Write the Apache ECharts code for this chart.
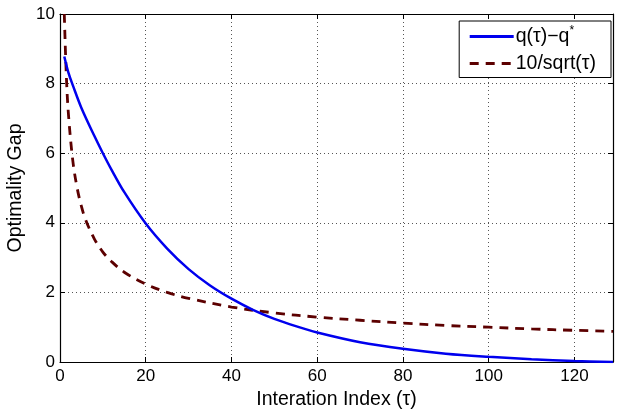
<!DOCTYPE html>
<html><head><meta charset="utf-8">
<script src="https://cdn.jsdelivr.net/npm/echarts@6/dist/echarts.min.js"></script>
<style>html,body{margin:0;padding:0;background:#fff}#c{width:623px;height:415px}</style>
</head><body><div id="c"></div>
<script>
const tauGap = [1,2,3,5,8,10,12,15,20,25,30,35,40,45,50,55,60,70,80,90,100,110,120,129];
const gapValues = [8.78,8.3,7.95,7.3,6.5,6.0,5.53,4.88,3.98,3.26,2.67,2.2,1.82,1.5,1.24,1.03,0.85,0.57,0.38,0.24,0.15,0.08,0.03,0.0];
const tauBound = [1,1.5,2,3,4,5,6,8,10,12,15,20,25,30,40,50,60,70,80,90,100,110,120,129];
const boundValues = [10,8.16,7.07,5.77,5.0,4.47,4.08,3.54,3.16,2.89,2.58,2.24,2.0,1.83,1.58,1.41,1.29,1.2,1.12,1.05,1.0,0.95,0.91,0.88];
const xTicks = [0,20,40,60,80,100,120];
const yTicks = [0,2,4,6,8,10];
const seriesNames = ['q(τ)−q*', '10/sqrt(τ)'];

const pair = (xs, ys) => xs.map((x, i) => [x, ys[i]]);
const font = 'Liberation Sans, Arial, Helvetica, sans-serif';
const chart = echarts.init(document.getElementById('c'), null, {renderer: 'canvas'});
const tickStyle = {show: true, inside: true, length: 5, lineStyle: {color: '#000', width: 1}};
const baseX = {
  type: 'value', min: 0, max: 129, interval: 20,
  axisLine: {show: true, onZero: false, lineStyle: {color: '#000', width: 1.2}},
  axisTick: Object.assign({customValues: xTicks}, tickStyle)
};
const baseY = {
  type: 'value', min: 0, max: 10, interval: 2,
  axisLine: {show: true, onZero: false, lineStyle: {color: '#000', width: 1.2}},
  axisTick: Object.assign({customValues: yTicks}, tickStyle)
};
const gridLine = {show: true, lineStyle: {color: '#555', type: [1, 3], width: 1}};
chart.setOption({
  animation: false,
  backgroundColor: '#fff',
  grid: {left: 60, right: 10, top: 14, bottom: 53, containLabel: false, outerBoundsMode: 'none'},
  legend: {
    right: 12, top: 21, orient: 'vertical', align: 'left',
    backgroundColor: '#fff', borderColor: '#000', borderWidth: 1, borderRadius: 0,
    padding: [4, 15, 4, 9], itemGap: 7, itemWidth: 44, itemHeight: 20,
    itemStyle: {opacity: 0},
    lineStyle: {width: 3},
    textStyle: {fontFamily: font, fontSize: 19.5, color: '#000', padding: [0, 0, 0, -3],
      rich: {sup: {fontSize: 12, verticalAlign: 'top', padding: [0, 0, 11, 0], fontFamily: font, color: '#000'}}},
    formatter: n => n === seriesNames[0] ? 'q(τ)−q{sup|*}' : n,
    data: seriesNames
  },
  xAxis: [
    Object.assign({}, baseX, {
      position: 'bottom',
      name: 'Interation Index (τ)', nameLocation: 'middle', nameGap: 18,
      nameTextStyle: {fontFamily: font, fontSize: 19.5, color: '#000'},
      axisLabel: {show: true, color: '#000', fontFamily: font, fontSize: 17, margin: 6, customValues: xTicks},
      splitLine: gridLine
    }),
    Object.assign({}, baseX, {position: 'top', axisLabel: {show: false}, splitLine: {show: false}})
  ],
  yAxis: [
    Object.assign({}, baseY, {
      position: 'left',
      name: 'Optimality Gap', nameLocation: 'middle', nameGap: 30,
      nameTextStyle: {fontFamily: font, fontSize: 19.5, color: '#000'},
      axisLabel: {show: true, color: '#000', fontFamily: font, fontSize: 17, margin: 5, customValues: yTicks},
      splitLine: gridLine
    }),
    Object.assign({}, baseY, {position: 'right', axisLabel: {show: false}, splitLine: {show: false}})
  ],
  series: [
    {
      name: seriesNames[0], type: 'line', smooth: 0.35, symbol: 'none',
      data: pair(tauGap, gapValues),
      lineStyle: {color: '#0000ee', width: 2.5},
      itemStyle: {color: '#0000ee'}, z: 3
    },
    {
      name: seriesNames[1], type: 'line', smooth: 0.35, symbol: 'none',
      data: pair(tauBound, boundValues),
      lineStyle: {color: '#5c0000', width: 2.8, type: [9, 7]},
      itemStyle: {color: '#5c0000'}, z: 2
    }
  ]
});
</script></body></html>
